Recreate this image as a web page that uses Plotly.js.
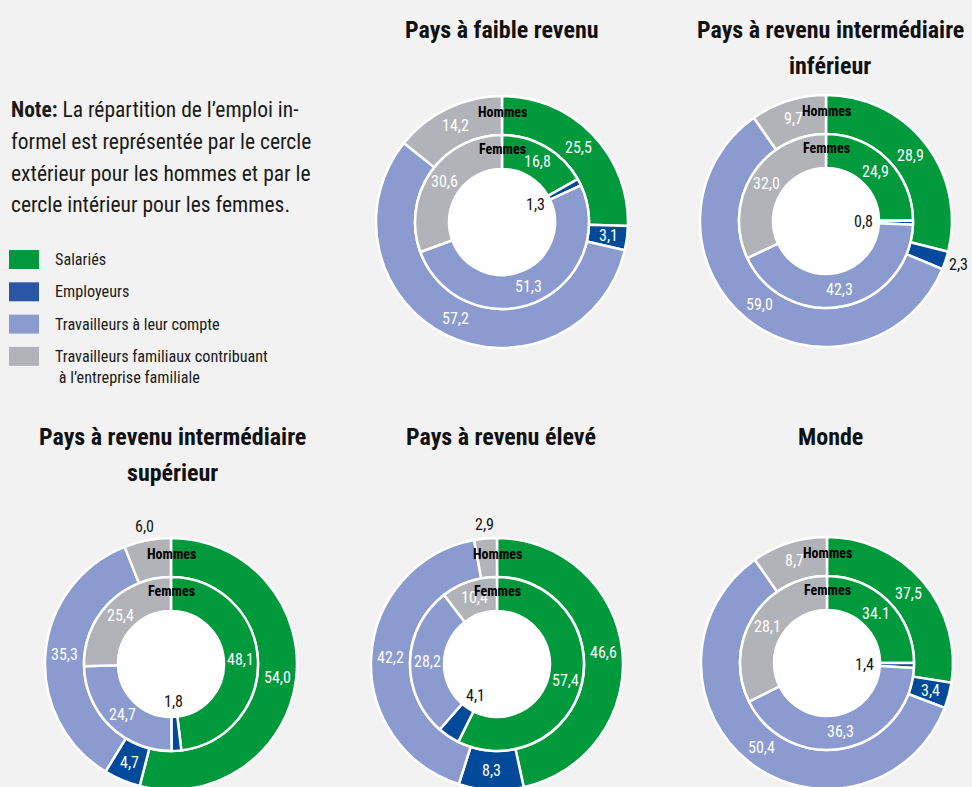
<!DOCTYPE html>
<html>
<head>
<meta charset="utf-8">
<script src="https://cdn.plot.ly/plotly-3.0.1.min.js"></script>
<style>
  html, body { margin: 0; padding: 0; background: #f2f2f2; overflow: hidden; }
  #chart { width: 972px; height: 800px; }
</style>
</head>
<body>
<div id="chart"></div>
<script>
// ---------- DATA ----------
const categories = ['Salariés', 'Employeurs', 'Travailleurs à leur compte', 'Travailleurs familiaux contribuant à l’entreprise familiale'];
const legendLines = [['Salariés'], ['Employeurs'], ['Travailleurs à leur compte'], ['Travailleurs familiaux contribuant', ' à l’entreprise familiale']];

const chartTitles = [
  ['Pays à faible revenu'],
  ['Pays à revenu intermédiaire', 'inférieur'],
  ['Pays à revenu intermédiaire', 'supérieur'],
  ['Pays à revenu élevé'],
  ['Monde']
];

// Hommes (outer ring) and Femmes (inner ring), order = categories
const lowHommes = [25.5, 3.1, 57.2, 14.2];
const lowFemmes = [16.8, 1.3, 51.3, 30.6];
const lowerMidHommes = [28.9, 2.3, 59.0, 9.7];
const lowerMidFemmes = [24.9, 0.8, 42.3, 32.0];
const upperMidHommes = [54.0, 4.7, 35.3, 6.0];
const upperMidFemmes = [48.1, 1.8, 24.7, 25.4];
const highHommes = [46.6, 8.3, 42.2, 2.9];
const highFemmes = [57.4, 4.1, 28.2, 10.4];
// Monde: slice sizes as drawn in the picture
const mondeHommes = [27.5, 3.3, 59.5, 9.7];
const mondeFemmes = [25.0, 0.9, 41.8, 32.3];

// printed labels
const lowHommesText = ['25,5', '3,1', '57,2', '14,2'];
const lowFemmesText = ['16,8', '1,3', '51,3', '30,6'];
const lowerMidHommesText = ['28,9', '2,3', '59,0', '9,7'];
const lowerMidFemmesText = ['24,9', '0,8', '42,3', '32,0'];
const upperMidHommesText = ['54,0', '4,7', '35,3', '6,0'];
const upperMidFemmesText = ['48,1', '1,8', '24,7', '25,4'];
const highHommesText = ['46,6', '8,3', '42,2', '2,9'];
const highFemmesText = ['57,4', '4,1', '28,2', '10,4'];
const mondeHommesText = ['37,5', '3,4', '50,4', '8,7'];
const mondeFemmesText = ['34.1', '1,4', '36,3', '28,1'];

const noteLines = [
  '<b>Note:</b> La répartition de l’emploi in-',
  'formel est représentée par le cercle',
  'extérieur pour les hommes et par le',
  'cercle intérieur pour les femmes.'
];

// ---------- STYLE / LAYOUT ----------
const W = 972, H = 800;
const FONT = '"Roboto Condensed", Roboto, sans-serif';
const colors = ['#009a3d', '#004a99', '#8c9bcf', '#b1b3b8'];
const legendColors = ['#00983c', '#2a57a5', '#8c9bcf', '#b1b3b8'];

const charts = [
  { h: lowHommes, f: lowFemmes, ht: lowHommesText, ft: lowFemmesText, cx: 502, cy: 222, title: chartTitles[0], tx: 502, ty: 30, outside: [] },
  { h: lowerMidHommes, f: lowerMidFemmes, ht: lowerMidHommesText, ft: lowerMidFemmesText, cx: 826, cy: 221, title: chartTitles[1], tx: 830, ty: 30, outside: [1] },
  { h: upperMidHommes, f: upperMidFemmes, ht: upperMidHommesText, ft: upperMidFemmesText, cx: 171, cy: 664, title: chartTitles[2], tx: 172, ty: 437, outside: [3] },
  { h: highHommes, f: highFemmes, ht: highHommesText, ft: highFemmesText, cx: 497, cy: 664, title: chartTitles[3], tx: 501, ty: 437, outside: [3] },
  { h: mondeHommes, f: mondeFemmes, ht: mondeHommesText, ft: mondeFemmesText, cx: 827, cy: 663, title: chartTitles[4], tx: 830, ty: 437, outside: [] }
];

const R_OUT = 126, R_MID = 87, R_HOLE = 53;
const TITLE_LINE = 36;

function px2x(x) { return x / W; }
function px2y(y) { return 1 - y / H; }
function domainFor(cx, cy, r) {
  return { x: [px2x(cx - r), px2x(cx + r)], y: [px2y(cy + r), px2y(cy - r)] };
}

const traces = [];
const annotations = [];
const shapes = [];

function sliceLabels(values, texts, cx, cy, rText, holeIdx, outIdx, rHole, rOutside) {
  const total = values.reduce((a, b) => a + b, 0);
  let cum = 0;
  values.forEach((v, i) => {
    const mid = (cum + v / 2) / total * 2 * Math.PI;
    cum += v;
    let r = rText, color = '#ffffff';
    if (holeIdx.includes(i)) { r = rHole; color = '#111111'; }
    if (outIdx.includes(i)) { r = rOutside; color = '#111111'; }
    const x = cx + r * Math.sin(mid);
    const y = cy - r * Math.cos(mid);
    annotations.push({
      x: px2x(x), y: px2y(y), xref: 'paper', yref: 'paper',
      text: texts[i], showarrow: false, xanchor: 'center', yanchor: 'middle',
      font: { family: FONT, size: 16, color: color }
    });
  });
}

charts.forEach((c, k) => {
  // outer ring: Hommes
  traces.push({
    type: 'pie', values: c.h, labels: categories, sort: false, direction: 'clockwise', rotation: 0,
    hole: R_MID / R_OUT, domain: domainFor(c.cx, c.cy, R_OUT),
    marker: { colors: colors, line: { color: '#ffffff', width: 2.5 } },
    textinfo: 'none', hoverinfo: 'skip', showlegend: false
  });
  // inner ring: Femmes
  traces.push({
    type: 'pie', values: c.f, labels: categories, sort: false, direction: 'clockwise', rotation: 0,
    hole: R_HOLE / R_MID, domain: domainFor(c.cx, c.cy, R_MID),
    marker: { colors: colors, line: { color: '#ffffff', width: 2.5 } },
    textinfo: 'none', hoverinfo: 'skip', showlegend: false
  });
  // white centre
  traces.push({
    type: 'pie', values: [1], labels: ['centre'], sort: false,
    domain: domainFor(c.cx, c.cy, R_HOLE),
    marker: { colors: ['#ffffff'], line: { width: 0 } },
    textinfo: 'none', hoverinfo: 'skip', showlegend: false
  });

  const femHole = c.f.map((v, i) => v < 5 ? i : -1).filter(i => i >= 0);
  sliceLabels(c.h, c.ht, c.cx, c.cy, 107, [], c.outside, 38, 140);
  sliceLabels(c.f, c.ft, c.cx, c.cy, 70, femHole, [], 38, 140);

  annotations.push({ x: px2x(c.cx), y: px2y(c.cy - 110), xref: 'paper', yref: 'paper', text: '<b>Hommes</b>',
    showarrow: false, xanchor: 'center', yanchor: 'middle', font: { family: FONT, size: 14, color: '#000' } });
  annotations.push({ x: px2x(c.cx), y: px2y(c.cy - 73), xref: 'paper', yref: 'paper', text: '<b>Femmes</b>',
    showarrow: false, xanchor: 'center', yanchor: 'middle', font: { family: FONT, size: 14, color: '#000' } });

  c.title.forEach((line, j) => {
    annotations.push({ x: px2x(c.tx), y: px2y(c.ty + j * TITLE_LINE), xref: 'paper', yref: 'paper',
      text: '<b>' + line + '</b>', showarrow: false, xanchor: 'center', yanchor: 'middle',
      font: { family: FONT, size: 24, color: '#111' } });
  });
});

// note
noteLines.forEach((line, j) => {
  annotations.push({ x: px2x(9), y: px2y(110 + j * 31.5), xref: 'paper', yref: 'paper', text: line,
    showarrow: false, xanchor: 'left', yanchor: 'middle', font: { family: FONT, size: 21.5, color: '#1a1a1a' } });
});

// legend
legendLines.forEach((lines, i) => {
  const top = 250 + i * 32.3;
  shapes.push({ type: 'rect', xref: 'paper', yref: 'paper', x0: px2x(9), x1: px2x(39), y0: px2y(top + 19), y1: px2y(top),
    fillcolor: legendColors[i], line: { width: 0 } });
  lines.forEach((t, j) => {
    annotations.push({ x: px2x(53), y: px2y(top + 9.5 + j * 21), xref: 'paper', yref: 'paper', text: t,
      showarrow: false, xanchor: 'left', yanchor: 'middle', font: { family: FONT, size: 16.2, color: '#1a1a1a' } });
  });
});

const layout = {
  width: W, height: H,
  margin: { l: 0, r: 0, t: 0, b: 0 },
  paper_bgcolor: '#f2f2f2', plot_bgcolor: '#f2f2f2',
  showlegend: false,
  annotations: annotations, shapes: shapes,
  font: { family: FONT }
};

Plotly.newPlot('chart', traces, layout, { displayModeBar: false, staticPlot: true });
</script>
</body>
</html>
